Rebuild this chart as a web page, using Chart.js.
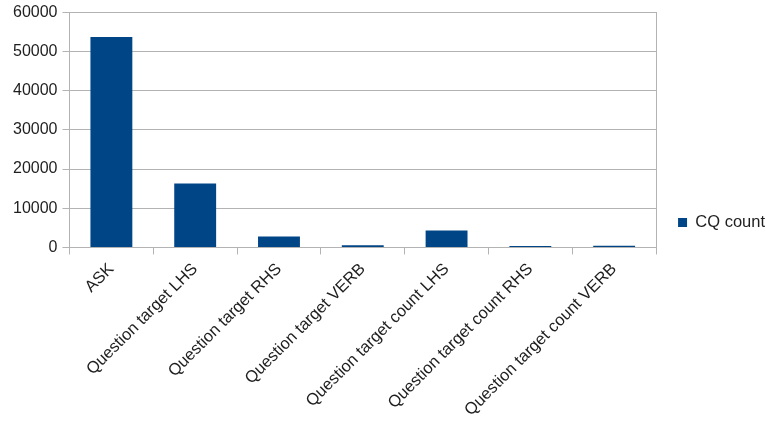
<!DOCTYPE html>
<html>
<head>
<meta charset="utf-8">
<script src="https://cdn.jsdelivr.net/npm/chart.js@4"></script>
<style>
  html, body { margin: 0; padding: 0; background: #fff; }
  #wrap { width: 766px; height: 424px; }
</style>
</head>
<body>
<div id="wrap"><canvas id="mychart"></canvas></div>
<script>
const ctx = document.getElementById("mychart").getContext("2d");

const labels = [
  "ASK",
  "Question target LHS",
  "Question target RHS",
  "Question target VERB",
  "Question target count LHS",
  "Question target count RHS",
  "Question target count VERB",
];
const cqCount = [53700, 16300, 2800, 550, 4300, 350, 400];
const yTicks = [0, 10000, 20000, 30000, 40000, 50000, 60000];

const barColor = "#004586";
const gridColor = "#b3b3b3";
const textColor = "#1e1e1e";

Chart.defaults.font.family = "'Liberation Sans', Arial, sans-serif";
Chart.defaults.font.size = 16;
Chart.defaults.color = textColor;

const data = {
  labels,
  datasets: [
    {
      label: "CQ count",
      data: cqCount,
      backgroundColor: barColor,
      borderWidth: 0,
      barPercentage: 0.5,
      categoryPercentage: 1,
    },
  ],
};

const config = {
  type: "bar",
  data: data,
  options: {
    responsive: true,
    maintainAspectRatio: false,
    animation: false,
    layout: { padding: { top: 0, right: -9, left: 8, bottom: -1 } },
    plugins: {
      tooltip: { enabled: false },
      legend: {
        position: "right",
        title: { display: true, text: "", font: { size: 10 }, padding: 4 },
        labels: {
          boxWidth: 9,
          boxHeight: 9,
          padding: 14,
          color: textColor,
          font: { size: 16.5 },
        },
      },
    },
    scales: {
      x: {
        offset: true,
        grid: {
          offset: true,
          drawOnChartArea: false,
          drawTicks: true,
          tickLength: 7,
          color: gridColor,
        },
        border: { color: gridColor },
        ticks: {
          minRotation: 45,
          maxRotation: 45,
          color: textColor,
          padding: 5,
          font: { size: 16.5 },
        },
      },
      y: {
        min: 0,
        max: 60000,
        afterBuildTicks: (axis) => {
          axis.ticks = yTicks.map((v) => ({ value: v }));
        },
        grid: { color: gridColor, tickLength: 7 },
        border: { color: gridColor },
        ticks: {
          color: textColor,
          padding: 5,
          font: { size: 16, lineHeight: 0.9 },
          callback: (value) => String(value),
        },
      },
      y2: {
        position: "right",
        min: 0,
        max: 60000,
        grid: { display: false },
        border: { color: gridColor },
        ticks: { display: false },
      },
    },
  },
};

const myChart = new Chart(ctx, config);
</script>
</body>
</html>
